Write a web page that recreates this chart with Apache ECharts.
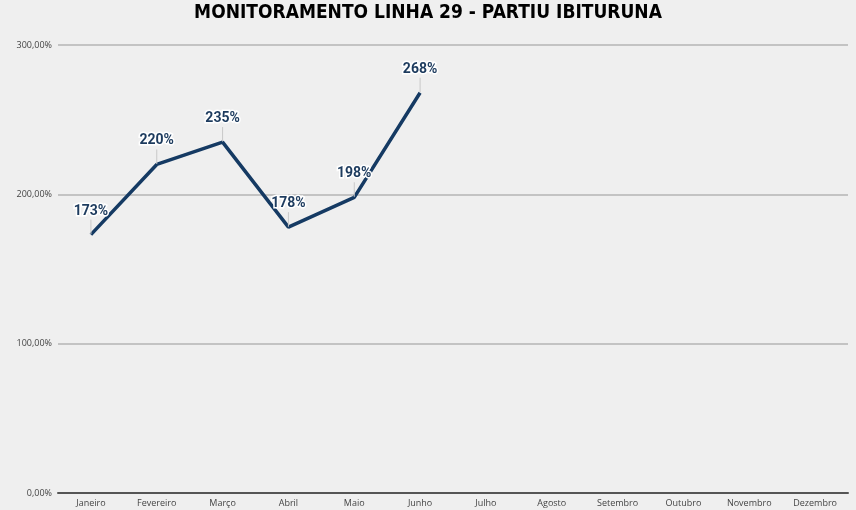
<!DOCTYPE html>
<html>
<head>
<meta charset="utf-8">
<script src="https://cdn.jsdelivr.net/npm/echarts@6/dist/echarts.min.js"></script>
<style>
html,body{margin:0;padding:0;background:#efefef;}
#main{width:856px;height:510px;}
</style>
</head>
<body>
<div id="main"></div>
<script>
var meses = ['Janeiro','Fevereiro','Março','Abril','Maio','Junho','Julho','Agosto','Setembro','Outubro','Novembro','Dezembro'];
var valores = [1.73, 2.20, 2.35, 1.78, 1.98, 2.68];
var yTicks = [0, 1, 2, 3];

window.onload = function(){
	var myChart = echarts.init(document.getElementById('main'));
	var option = {
		backgroundColor: '#efefef',
		title: {
			text: 'MONITORAMENTO LINHA 29 - PARTIU IBITURUNA',
			left: 'center',
			top: -1,
			textStyle: {
				fontFamily: '"Liberation Sans Narrow", "DejaVu Sans Condensed", sans-serif',
				fontWeight: 'bold',
				fontSize: 19,
				color: '#000'
			}
		},
		grid: { left: 58, right: 8, top: 45, bottom: 17 },
		xAxis: {
			type: 'category',
			data: meses,
			boundaryGap: true,
			axisTick: { show: false },
			axisLine: { lineStyle: { color: '#555', width: 2 } },
			axisLabel: { color: '#444', fontSize: 9, margin: 6, fontFamily: '"Open Sans", sans-serif', interval: 0 }
		},
		yAxis: {
			type: 'value',
			min: yTicks[0],
			max: yTicks[yTicks.length - 1],
			interval: 1,
			axisLine: { show: false },
			axisTick: { show: false },
			splitLine: { lineStyle: { color: '#b4b4b4', width: 1.5 } },
			axisLabel: {
				color: '#444', fontSize: 9, margin: 6, fontFamily: '"Open Sans", sans-serif',
				formatter: function(v){ return (v*100).toFixed(2).replace('.', ',') + '%'; }
			}
		},
		series: [{
			type: 'line',
			data: valores,
			symbol: 'circle',
			symbolSize: 1,
			showAllSymbol: true,
			itemStyle: { color: 'rgba(21,58,99,0)' },
			lineStyle: { color: '#153a63', width: 3.5 },
			label: {
				show: true,
				position: 'top',
				distance: 2,
				opacity: 1,
				color: '#1d3b5e',
				fontWeight: 'bold',
				fontSize: 14,
				fontFamily: 'Roboto, sans-serif',
				textBorderColor: '#fff',
				textBorderWidth: 3,
				formatter: function(p){ return Math.round(p.value*100) + '%'; }
			},
			labelLayout: { dy: -14 },
			labelLine: { show: true, lineStyle: { color: '#c8c8c8', width: 1 } },
			silent: true
		}]
	};
	myChart.setOption(option);
};
</script>
</body>
</html>
